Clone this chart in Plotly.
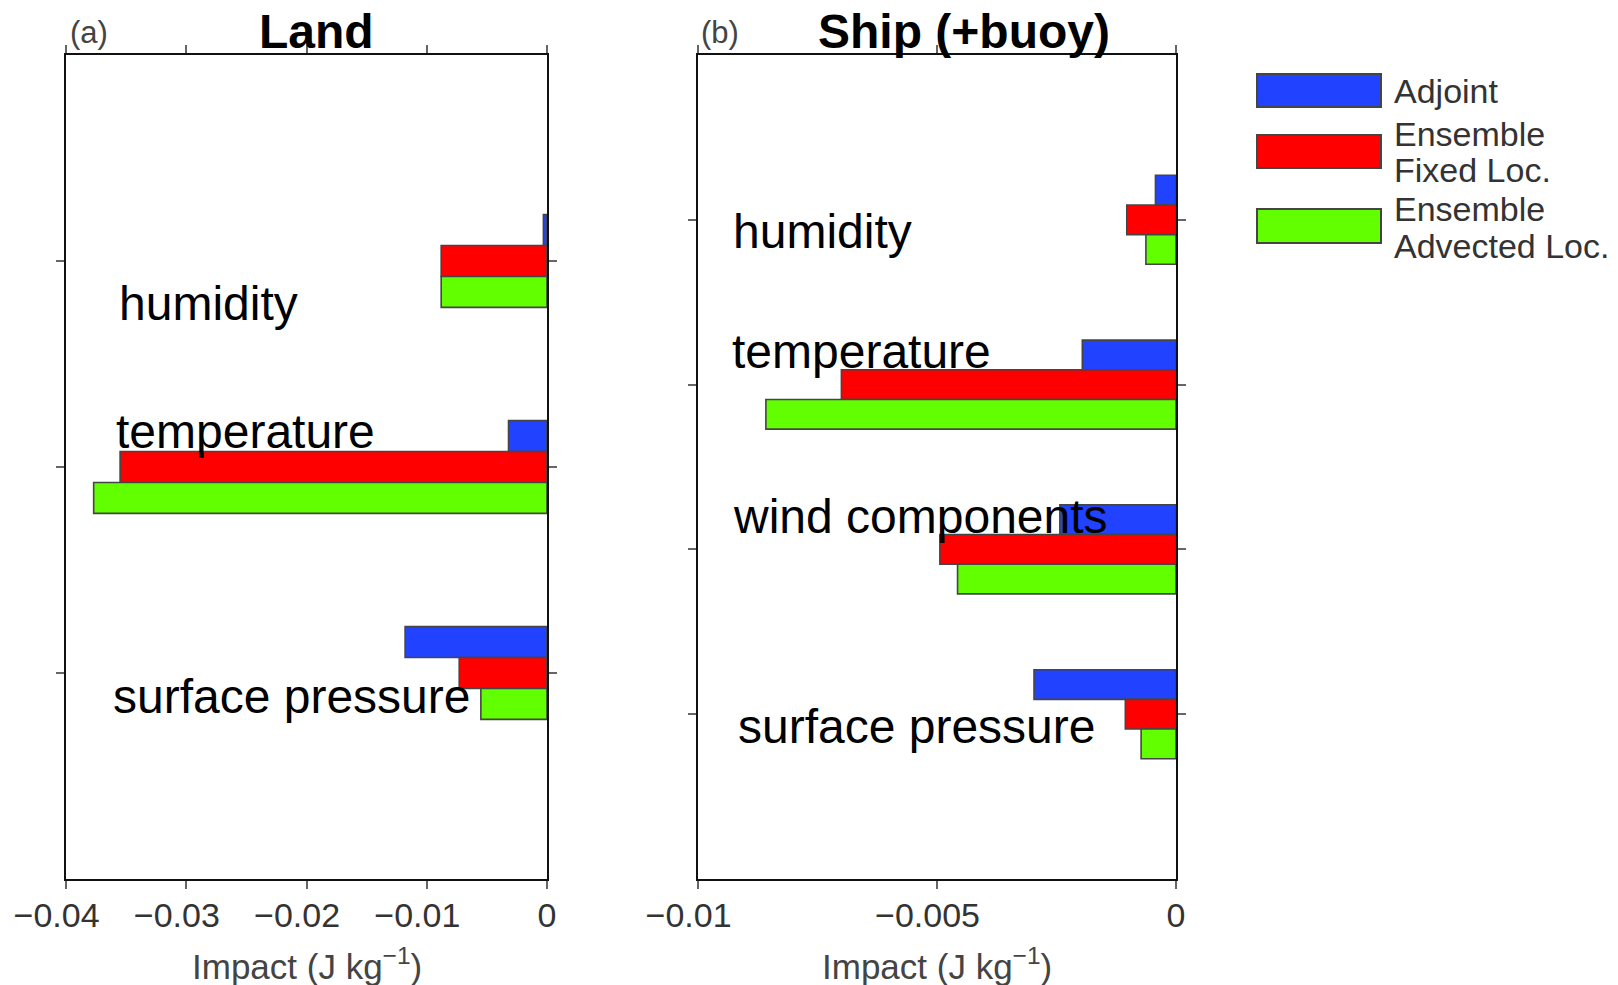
import plotly.graph_objects as go

W, H = 1618, 985

# ---- data -----------------------------------------------------------------
series_names = ["Adjoint", "Ensemble<br>Fixed Loc.", "Ensemble<br>Advected Loc."]
series_colors = ["#2142ff", "#ff0000", "#62ff00"]

land_categories = ["humidity", "temperature", "surface pressure"]
land_adjoint = [-0.0003, -0.0032, -0.0118]
land_fixed = [-0.0088, -0.0355, -0.0073]
land_advected = [-0.0088, -0.0377, -0.0055]

ship_categories = ["humidity", "temperature", "wind components", "surface pressure"]
ship_adjoint = [-0.00043, -0.00196, -0.00243, -0.00297]
ship_fixed = [-0.00103, -0.00700, -0.00494, -0.00106]
ship_advected = [-0.00063, -0.00858, -0.00457, -0.00073]

land_ticks = [-0.04, -0.03, -0.02, -0.01, 0]
land_tick_text = ["\u22120.04", "\u22120.03", "\u22120.02", "\u22120.01", "0"]
ship_ticks = [-0.01, -0.005, 0]
ship_tick_text = ["\u22120.01", "\u22120.005", "0"]


def fx(px):
    return px / W


def fy(py):
    return 1 - py / H


def pad(labels):
    # negative labels are centred on their digits, so pad their right side
    return [t + "\u2007" if t.startswith("\u2212") else t for t in labels]


FONT = "Liberation Sans, Arial, sans-serif"

fig = go.Figure()

# panel layout: (x axis id, y axis id, categories, series, bar thickness)
panels = [
    ("x", "y", land_categories, [land_adjoint, land_fixed, land_advected], 0.15),
    ("x2", "y2", ship_categories, [ship_adjoint, ship_fixed, ship_advected], 0.18),
]

for xa, ya, cats, series, bw in panels:
    n = len(cats)
    pos = [n - i for i in range(n)]  # first category at the top
    for k, (vals, name, col) in enumerate(zip(series, series_names, series_colors)):
        fig.add_trace(go.Bar(
            x=vals, y=pos, orientation="h", name=name.replace("<br>", " "),
            width=bw, offset=bw / 2 - k * bw,
            marker=dict(color=col, line=dict(color="#454545", width=1.6)),
            xaxis=xa, yaxis=ya, showlegend=False,
        ))

axis_common = dict(
    showline=True, linecolor="#111", linewidth=2, mirror="ticks",
    ticks="outside", ticklen=8, tickwidth=2, tickcolor="#666",
    showgrid=False, zeroline=False, automargin=False,
)

ydom = [fy(879), fy(55)]
tick_font = dict(size=34, color="#333", family=FONT)
fig.update_layout(
    width=W, height=H, margin=dict(l=0, r=0, t=0, b=0, autoexpand=False),
    paper_bgcolor="white", plot_bgcolor="white",
    barmode="overlay", showlegend=False,
    font=dict(family=FONT, color="#222"),
    xaxis=dict(domain=[fx(66), fx(547)], range=[-0.04, 0], tickvals=land_ticks,
               ticktext=pad(land_tick_text),
               tickfont=tick_font, ticklabelstandoff=-3, **axis_common),
    yaxis=dict(domain=ydom, range=[0, len(land_categories) + 1],
               tickvals=list(range(1, len(land_categories) + 1)),
               showticklabels=False, **axis_common),
    xaxis2=dict(domain=[fx(698), fx(1176)], range=[-0.01, 0], tickvals=ship_ticks,
                ticktext=pad(ship_tick_text),
                tickfont=tick_font, ticklabelstandoff=-3,
                anchor="y2", **axis_common),
    yaxis2=dict(domain=ydom, range=[0, len(ship_categories) + 1],
                tickvals=list(range(1, len(ship_categories) + 1)),
                showticklabels=False, anchor="x2", **axis_common),
)

ann = []

# category names written inside each panel
land_label_pos = [(-0.03575, 2.795), (-0.03605, 2.17), (-0.03625, 0.885)]
ship_label_pos = [(-0.00931, 3.93), (-0.00933, 3.20), (-0.00931, 2.20), (-0.00920, 0.925)]
for cats, lpos, xr, yr in [(land_categories, land_label_pos, "x", "y"),
                           (ship_categories, ship_label_pos, "x2", "y2")]:
    for c, (lx, ly) in zip(cats, lpos):
        ann.append(dict(text=c, x=lx, y=ly, xref=xr, yref=yr, xanchor="left",
                        yanchor="middle", showarrow=False,
                        font=dict(size=48, color="black", family=FONT)))

# panel titles and tags
for txt, cx in [("Land", 316), ("Ship (+buoy)", 964)]:
    ann.append(dict(text="<b>%s</b>" % txt, x=fx(cx), y=fy(31), xref="paper", yref="paper",
                    xanchor="center", yanchor="middle", showarrow=False,
                    font=dict(size=48, color="black", family=FONT)))
for txt, lx in [("(a)", 68), ("(b)", 699)]:
    ann.append(dict(text=txt, x=fx(lx), y=fy(33), xref="paper", yref="paper",
                    xanchor="left", yanchor="middle", showarrow=False,
                    font=dict(size=31, color="#444", family=FONT)))

# x axis titles
for cx in [(66 + 547) / 2, (698 + 1176) / 2]:
    ann.append(dict(text="Impact (J kg<sup>\u22121</sup>)", x=fx(cx), y=fy(964),
                    xref="paper", yref="paper", xanchor="center", yanchor="middle",
                    showarrow=False, font=dict(size=35, color="#444", family=FONT)))

# legend: coloured boxes with labels
box_rows = [(74, 107), (135, 168), (209, 243)]
text_rows = [[91], [134, 170], [209, 246]]
shapes = []
for (top, bot), rows, name, col in zip(box_rows, text_rows, series_names, series_colors):
    shapes.append(dict(type="rect", xref="paper", yref="paper",
                       x0=fx(1257), x1=fx(1381), y0=fy(bot), y1=fy(top),
                       fillcolor=col, line=dict(color="#454545", width=2)))
    for line_txt, ry in zip(name.split("<br>"), rows):
        ann.append(dict(text=line_txt, x=fx(1392), y=fy(ry), xref="paper", yref="paper",
                        xanchor="left", yanchor="middle", showarrow=False,
                        font=dict(size=34, color="#333", family=FONT)))

fig.update_layout(annotations=ann, shapes=shapes)

fig.write_html("out.html")
